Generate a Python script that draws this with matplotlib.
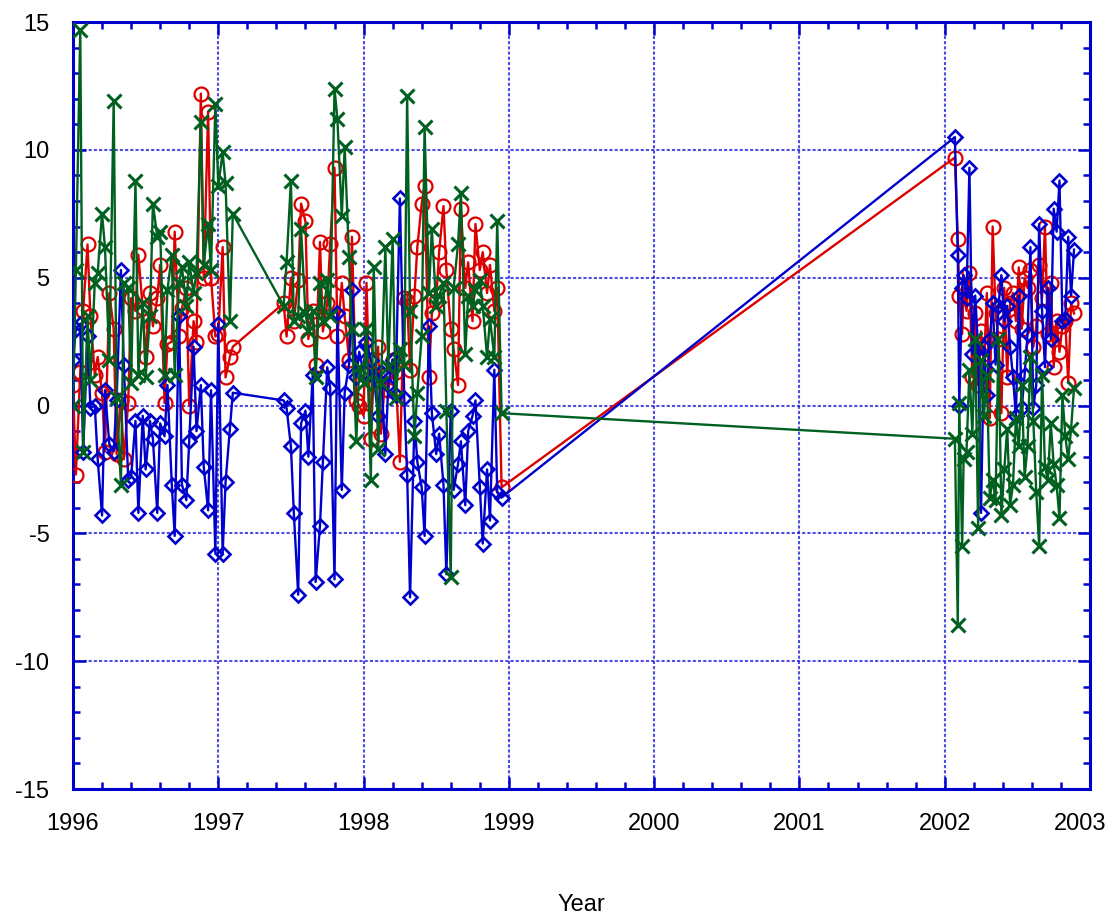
import matplotlib
matplotlib.use('Agg')
import matplotlib.pyplot as plt
import numpy as np
from matplotlib.ticker import MultipleLocator, FuncFormatter

plt.rcParams['font.family'] = ['Liberation Sans', 'DejaVu Sans']
plt.rcParams['axes.unicode_minus'] = False

# decimal years (three observation periods)
years = [
    1996.00, 1996.02, 1996.05, 1996.07, 1996.10, 1996.12, 1996.15, 1996.17, 1996.20, 1996.22,
    1996.25, 1996.28, 1996.30, 1996.33, 1996.35, 1996.38, 1996.40, 1996.43, 1996.45, 1996.48,
    1996.50, 1996.53, 1996.55, 1996.58, 1996.60, 1996.63, 1996.65, 1996.68, 1996.70, 1996.73,
    1996.75, 1996.78, 1996.80, 1996.83, 1996.85, 1996.88, 1996.90, 1996.93, 1996.95, 1996.98,
    1997.00, 1997.03, 1997.05, 1997.08, 1997.10,
    1997.45, 1997.47, 1997.50, 1997.52, 1997.55, 1997.57, 1997.60, 1997.62, 1997.65, 1997.67,
    1997.70, 1997.72, 1997.75, 1997.77, 1997.80, 1997.82, 1997.85, 1997.87, 1997.90, 1997.92,
    1997.95, 1997.97, 1998.00, 1998.02, 1998.05, 1998.07, 1998.10, 1998.12, 1998.15, 1998.17,
    1998.20, 1998.22, 1998.25, 1998.28, 1998.30, 1998.32, 1998.35, 1998.37, 1998.40, 1998.42,
    1998.45, 1998.47, 1998.50, 1998.52, 1998.55, 1998.57, 1998.60, 1998.62, 1998.65, 1998.67,
    1998.70, 1998.72, 1998.75, 1998.77, 1998.80, 1998.82, 1998.85, 1998.87, 1998.90, 1998.92,
    1998.95,
    2002.07, 2002.09, 2002.10, 2002.12, 2002.13, 2002.15, 2002.17, 2002.19, 2002.21, 2002.23,
    2002.25, 2002.27, 2002.29, 2002.31, 2002.33, 2002.35, 2002.37, 2002.39, 2002.41, 2002.43,
    2002.45, 2002.47, 2002.49, 2002.51, 2002.53, 2002.55, 2002.57, 2002.59, 2002.61, 2002.63,
    2002.65, 2002.67, 2002.69, 2002.71, 2002.73, 2002.75, 2002.77, 2002.79, 2002.81, 2002.83,
    2002.85, 2002.87, 2002.89,
]

red = [
    0.8, -2.7, 1.3, 3.7, 6.3, 3.5, 1.2, 1.9, 0.5, -1.8,
    4.4, 3.0, -1.9, 0.2, -2.1, 0.1, 4.2, 3.7, 5.9, 3.8,
    1.9, 4.4, 3.1, 4.2, 5.5, 0.1, 2.4, 2.5, 6.8, 2.7,
    3.8, 4.6, 0.0, 3.3, 2.5, 12.2, 5.0, 11.5, 5.0, 2.7,
    2.8, 6.2, 1.1, 1.9, 2.3,
    4.0, 2.7, 5.0, 3.3, 4.9, 7.9, 7.2, 2.6, 3.7, 1.6,
    6.4, 2.9, 4.0, 6.3, 9.3, 2.7, 4.8, 3.5, 1.8, 6.6,
    0.2, 0.0, -0.4, 4.8, -1.3, 1.2, 2.3, -1.1, 1.2, 0.6,
    1.8, 1.3, -2.2, 4.2, 4.1, 1.4, 4.3, 6.2, 7.9, 8.6,
    1.1, 3.6, 4.1, 6.0, 7.8, 5.3, 3.0, 2.2, 0.8, 7.7,
    4.6, 5.6, 3.3, 7.1, 5.3, 6.0, 4.4, 5.5, 3.7, 4.6,
    -3.2,
    9.7, 6.5, 4.3, 2.8, 4.6, 3.7, 5.2, 1.1, 3.6, 0.8,
    2.9, 1.5, 4.4, -0.5, 7.0, 3.6, 2.6, -0.3, 4.6, 1.1,
    4.0, 4.4, 3.3, 5.4, 3.0, 5.0, 4.6, 5.3, 2.3, 3.1,
    5.5, 4.2, 7.0, 2.8, 4.8, 1.5, 3.3, 2.1, 3.1, 3.3,
    0.9, 4.0, 3.6,
]

blue = [
    1.8, 3.0, 3.2, -1.8, 2.7, -0.1, 0.0, -2.1, -4.3, 0.6,
    -1.5, -1.8, 0.2, 5.3, 1.6, -2.9, -2.8, -0.6, -4.2, -0.4,
    -2.5, -0.6, -1.3, -4.2, -0.7, -1.2, 0.8, -3.1, -5.1, 3.5,
    -3.1, -3.7, -1.4, 2.3, -1.0, 0.8, -2.4, -4.1, 0.6, -5.8,
    3.2, -5.8, -3.0, -0.9, 0.5,
    0.2, -0.1, -1.6, -4.2, -7.4, -0.7, -0.2, -2.0, 1.2, -6.9,
    -4.7, -2.2, 1.5, 0.7, -6.8, 3.6, -3.3, 0.5, 1.6, 4.5,
    1.1, 2.1, 1.3, 2.5, 1.8, 1.1, -0.4, 1.3, -1.9, 0.8,
    1.8, 0.4, 8.1, 0.3, -2.7, -7.5, -0.6, -2.2, -3.2, -5.1,
    3.1, -0.3, -1.9, -1.1, -3.1, -6.6, -0.2, -3.3, -2.3, -1.4,
    -3.9, -1.0, -0.4, 0.2, -3.2, -5.4, -2.5, -4.5, 1.4, -3.4,
    -3.6,
    10.5, 5.9, 0.0, 4.6, 5.1, 4.2, 9.3, 2.0, 4.3, 2.2,
    -4.2, 2.3, 0.4, 2.6, 4.0, 1.6, 3.9, 5.1, 3.3, 3.9,
    2.3, 1.1, -0.4, 4.3, -0.1, 1.2, 2.8, 6.2, -0.1, 0.8,
    7.1, 3.7, 1.5, 4.6, 2.6, 7.7, 6.8, 8.8, 3.3, 3.4,
    6.6, 4.3, 6.1,
]

green = [
    0.0, 5.3, 14.7, -1.8, 3.5, 1.0, 4.8, 5.2, 7.5, 6.2,
    1.8, 11.9, 0.3, -3.1, 4.8, 4.6, 0.9, 8.8, 1.2, 4.0,
    1.1, 3.5, 7.9, 6.6, 6.8, 1.2, 4.5, 5.9, 1.2, 4.8,
    5.4, 3.9, 5.6, 4.4, 5.2, 11.1, 5.5, 7.1, 5.3, 11.8,
    8.6, 9.9, 8.7, 3.3, 7.5,
    3.9, 5.6, 8.8, 3.3, 3.5, 6.9, 3.6, 2.9, 3.7, 1.1,
    4.8, 3.3, 4.9, 3.5, 12.4, 11.2, 7.4, 10.1, 5.8, 3.0,
    -1.4, 1.5, 0.9, 3.0, -2.9, 5.4, -1.7, 0.9, 6.2, 1.5,
    6.5, 0.3, 2.2, 1.6, 12.1, 3.7, -1.2, 0.5, 2.7, 10.9,
    4.4, 6.9, 3.9, 4.3, 4.8, -0.2, -6.7, 4.6, 6.3, 8.3,
    2.0, 4.3, 3.9, 4.5, 4.9, 3.9, 1.9, 3.4, 1.9, 7.2,
    -0.3,
    -1.3, -8.6, 0.1, -5.5, -2.1, -1.8, 1.4, -1.1, 2.6, -4.8,
    1.8, -0.4, 1.2, -3.6, -2.9, -3.7, 2.6, -4.3, -2.5, -0.9,
    -3.9, -3.1, -0.5, -1.6, 0.8, -2.8, -1.6, 1.9, -0.6, -3.4,
    -5.5, 1.2, -2.4, -2.9, -0.7, -2.3, -3.1, -4.4, 0.4, -1.2,
    -2.1, -0.9, 0.7,
]

fig = plt.figure(figsize=(11.11, 9.18), dpi=100)
ax = fig.add_axes([0.0657, 0.1405, 0.9154, 0.8355])

ax.plot(years, red, color='#dd0000', lw=1.7, marker='o', ms=10, mfc='none', mew=1.6, zorder=3)
ax.plot(years, blue, color='#0000cc', lw=1.7, marker='D', ms=7.5, mfc='none', mew=1.9, zorder=4)
ax.plot(years, green, color='#006020', lw=1.7, marker='x', ms=10, mew=2.2, zorder=5)

ax.set_xlim(1996, 2003)
ax.set_ylim(-15, 15)
ax.xaxis.set_major_locator(MultipleLocator(1))
ax.xaxis.set_minor_locator(MultipleLocator(0.2))
ax.yaxis.set_major_locator(MultipleLocator(5))
ax.yaxis.set_minor_locator(MultipleLocator(1))
# last year label is drawn separately, nudged left so it fits in the figure
ax.xaxis.set_major_formatter(FuncFormatter(lambda v, p: '' if v > 2002.5 else '%d' % round(v)))
ax.annotate('2003', xy=(2003, 0), xycoords=('data', 'axes fraction'),
            xytext=(-7, -17), textcoords='offset points', ha='center', va='top', fontsize=17)

ax.grid(True, which='major', color='#2222dd', linestyle=(0, (1.5, 1)), linewidth=1.5, alpha=0.8)
for s in ax.spines.values():
    s.set_color('#0000cc')
    s.set_linewidth(2.2)

ax.tick_params(which='both', direction='in', top=True, right=True, color='#0000cc', width=1.8)
ax.tick_params(which='major', length=9, labelsize=17, pad=17)
ax.tick_params(which='minor', length=5)

ax.set_xlabel('Year', fontsize=17, va='center')
ax.xaxis.set_label_coords(0.5, -0.151)

fig.savefig('out.png', dpi=100)
